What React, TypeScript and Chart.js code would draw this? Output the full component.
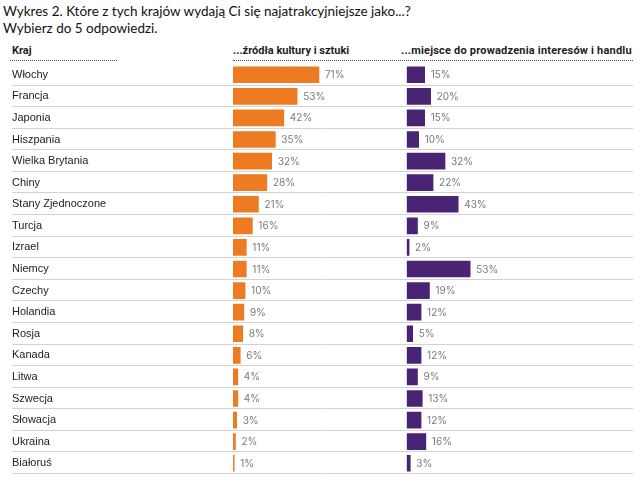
import React, { useEffect, useRef } from "react";
import { Chart, registerables } from "chart.js";

Chart.register(...registerables);

const countries = [
  "Włochy", "Francja", "Japonia", "Hiszpania", "Wielka Brytania", "Chiny",
  "Stany Zjednoczone", "Turcja", "Izrael", "Niemcy", "Czechy", "Holandia",
  "Rosja", "Kanada", "Litwa", "Szwecja", "Słowacja", "Ukraina", "Białoruś",
];
const cultureValues = [71, 53, 42, 35, 32, 28, 21, 16, 11, 11, 10, 9, 8, 6, 4, 4, 3, 2, 1];
const businessValues = [15, 20, 15, 10, 32, 22, 43, 9, 2, 53, 19, 12, 5, 12, 9, 13, 12, 16, 3];

const titleLines = [
  "Wykres 2. Które z tych krajów wydają Ci się najatrakcyjniejsze jako...?",
  "Wybierz do 5 odpowiedzi.",
];
const headerCountry = "Kraj";
const headerCulture = "...źródła kultury i sztuki";
const headerBusiness = "...miejsce do prowadzenia interesów i handlu";

const ORANGE = "#EC7B22";
const PURPLE = "#4A2474";

const separatorPlugin = {
  id: "rowSeparators",
  beforeDatasetsDraw(chart: any) {
    const y = chart.scales.y;
    const ctx = chart.ctx;
    const n = chart.data.labels.length;
    const half = (y.getPixelForValue(1) - y.getPixelForValue(0)) / 2;
    ctx.save();
    ctx.strokeStyle = "#d2d2d2";
    ctx.lineWidth = 1;
    for (let i = 0; i < n; i++) {
      const py = Math.round(y.getPixelForValue(i) + half) - 0.5;
      ctx.beginPath();
      ctx.moveTo(y.left, py);
      ctx.lineTo(chart.chartArea.right, py);
      ctx.stroke();
    }
    ctx.restore();
  },
};

const valueLabelPlugin = {
  id: "valueLabels",
  afterDatasetsDraw(chart: any) {
    const ctx = chart.ctx;
    ctx.save();
    ctx.font = "10px Inter";
    ctx.fillStyle = "#7a7a7a";
    ctx.textAlign = "left";
    ctx.textBaseline = "middle";
    chart.data.datasets.forEach((ds: any, di: number) => {
      const meta = chart.getDatasetMeta(di);
      meta.data.forEach((el: any, i: number) => {
        ctx.fillText(ds.data[i] + "%", el.x + 6, el.y + 0.5);
      });
    });
    ctx.restore();
  },
};

export default function App() {
  const canvasRef = useRef<HTMLCanvasElement | null>(null);

  useEffect(() => {
    if (!canvasRef.current) return;
    const chart = new Chart(canvasRef.current, {
      type: "bar",
      data: {
        labels: countries,
        datasets: [
          {
            label: headerCulture,
            data: cultureValues,
            backgroundColor: ORANGE,
            xAxisID: "x",
            grouped: false,
            barThickness: 16,
          } as any,
          {
            label: headerBusiness,
            data: businessValues,
            backgroundColor: PURPLE,
            xAxisID: "x2",
            grouped: false,
            barThickness: 16,
          } as any,
        ],
      },
      options: {
        indexAxis: "y",
        responsive: false,
        animation: false,
        devicePixelRatio: 1,
        layout: { padding: { top: 64, bottom: 15, left: 12, right: 7 } },
        plugins: {
          legend: { display: false },
          tooltip: { enabled: false },
          title: { display: false },
        },
        scales: {
          y: {
            type: "category",
            offset: true,
            grid: { display: false, drawTicks: false },
            border: { display: false },
            ticks: {
              autoSkip: false,
              crossAlign: "far",
              color: "#222",
              font: { family: "'Liberation Sans', Arial, sans-serif", size: 11 },
              padding: 0,
            },
            afterFit(scale: any) {
              scale.width = 221;
            },
          },
          x: {
            type: "linear",
            position: "bottom",
            stack: "cols",
            stackWeight: 173.7,
            min: 0,
            max: 143.5,
            grid: { display: false, drawTicks: false },
            border: { display: false },
            ticks: { display: false },
          },
          x2: {
            type: "linear",
            position: "bottom",
            stack: "cols",
            stackWeight: 226.3,
            min: 0,
            max: 189,
            grid: { display: false, drawTicks: false },
            border: { display: false },
            ticks: { display: false },
          },
        },
      } as any,
      plugins: [separatorPlugin, valueLabelPlugin],
    });
    return () => chart.destroy();
  }, []);

  const headerStyle: React.CSSProperties = {
    position: "absolute",
    top: 44,
    fontFamily: "Roboto, sans-serif",
    fontWeight: 700,
    fontSize: 11,
    lineHeight: "14px",
    color: "#1e1e1e",
    whiteSpace: "nowrap",
  };
  const dotted: React.CSSProperties = {
    position: "absolute",
    top: 60,
    height: 0,
    borderTop: "1px dotted #555",
  };

  return (
    <div
      style={{
        position: "absolute",
        left: 0,
        top: 0,
        width: 640,
        height: 489,
        background: "#fff",
        overflow: "hidden",
      }}
    >
      <div
        style={{
          position: "absolute",
          left: 3,
          top: 3,
          fontFamily: "Lato, sans-serif",
          fontSize: 13.5,
          lineHeight: "17px",
          color: "#111",
          whiteSpace: "nowrap",
        }}
      >
        <div>{titleLines[0]}</div>
        <div>{titleLines[1]}</div>
      </div>
      <div style={{ ...headerStyle, left: 12 }}>{headerCountry}</div>
      <div style={{ ...headerStyle, left: 233 }}>{headerCulture}</div>
      <div style={{ ...headerStyle, left: 401, letterSpacing: "0.2px" }}>{headerBusiness}</div>
      <div style={{ ...dotted, left: 10, width: 107 }} />
      <div style={{ ...dotted, left: 233, width: 400 }} />
      <canvas
        ref={canvasRef}
        width={640}
        height={489}
        style={{ position: "absolute", left: 0, top: 0, width: 640, height: 489 }}
      />
    </div>
  );
}
